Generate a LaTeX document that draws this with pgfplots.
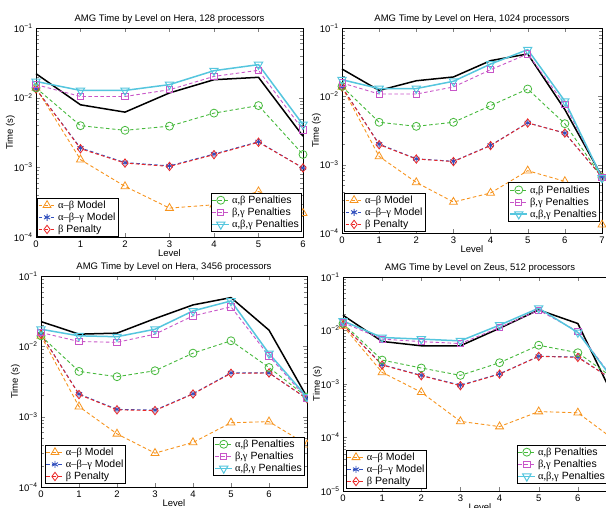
\documentclass[border=0pt]{standalone}
\usepackage{pgfplots}
\pgfplotsset{compat=1.18}
\usepackage{fontspec}
\setmainfont{Liberation Sans}
\newfontfamily\grk{Liberation Serif}
\definecolor{cOr}{RGB}{247,148,30}
\definecolor{cBl}{RGB}{50,80,190}
\definecolor{cRd}{RGB}{235,40,40}
\definecolor{cGr}{RGB}{70,185,60}
\definecolor{cMg}{RGB}{200,85,200}
\definecolor{cCy}{RGB}{85,198,222}
\newcommand{\tl}[1]{10\textsuperscript{−#1}}
\pgfplotsset{
 sOr/.style={color=cOr, line width=0.9pt, dash pattern=on 3.5pt off 2.5pt, mark=triangle, mark size=4.6pt, mark options={solid, line width=0.8pt}},
 sBl/.style={color=cBl, line width=0.9pt, dash pattern=on 3.5pt off 2.5pt, mark=asterisk, mark size=3.5pt, mark options={solid, line width=0.9pt}},
 sRd/.style={color=cRd, line width=0.9pt, dash pattern=on 3.5pt off 2.5pt, mark=diamond, mark size=4.2pt, mark options={solid, line width=0.8pt}},
 sGr/.style={color=cGr, line width=0.9pt, dash pattern=on 3.5pt off 2.5pt, mark=o, mark size=4pt, mark options={solid, line width=0.8pt}},
 sMg/.style={color=cMg, line width=0.9pt, dash pattern=on 3.5pt off 2.5pt, mark=square, mark size=3.1pt, mark options={solid, line width=0.8pt}},
 sCy/.style={color=cCy, line width=1.5pt, solid, mark=triangle, mark size=4.8pt, mark options={solid, rotate=180, line width=1pt}},
 sBk/.style={color=black, line width=1.5pt, solid, no marks},
}
\begin{document}
\begin{tikzpicture}
\useasboundingbox (0,0) rectangle (606pt,508pt);
\clip (0,0) rectangle (606pt,508pt);
% ---------------- top left
\begin{axis}[scale only axis, ymode=log, clip=false, anchor=south west,
  tick align=inside, axis line style={line width=0.7pt},
  font=\fontsize{9.5}{11}\selectfont, tick label style={font=\fontsize{9.5}{11}\selectfont},
  /pgf/number format/assume math mode=true,
  ytick={1e-4,1e-3,1e-2,1e-1}, yticklabels={\tl{4},\tl{3},\tl{2},\tl{1}},
  minor ytick={2e-4,3e-4,4e-4,5e-4,6e-4,7e-4,8e-4,9e-4,2e-3,3e-3,4e-3,5e-3,6e-3,7e-3,8e-3,9e-3,2e-2,3e-2,4e-2,5e-2,6e-2,7e-2,8e-2,9e-2},
  title style={font=\fontsize{9.5}{11}\selectfont, yshift=-5pt},
  xlabel={Level}, ylabel={Time (s)}, xlabel style={yshift=5pt}, ylabel style={yshift=-8pt},
  legend cell align=left,
  legend style={draw=black, line width=1pt, fill=white, inner sep=0.5pt, font=\fontsize{10.5}{12}\selectfont, row sep=-1pt, at={(0.004,0.0)}, anchor=south west},
  at={(36pt,271pt)}, width=267pt, height=209pt, xmin=0, xmax=6, ymin=1e-4, ymax=1e-1,
  xtick={0,...,6}, title={AMG Time by Level on Hera, 128 processors}]
\addplot[sBk, forget plot] coordinates {(0,0.0221)(1,0.0079)(2,0.0062)(3,0.0117)(4,0.0181)(5,0.0196)(6,0.0028)};
\addplot[sOr] coordinates {(0,0.0138)(1,0.00129)(2,0.000533)(3,0.00026)(4,0.00029)(5,0.00045)(6,0.00022)};
\addlegendentry{{\grk α–β} Model}
\addplot[sBl] coordinates {(0,0.0133)(1,0.0019)(2,0.00117)(3,0.00105)(4,0.00155)(5,0.00233)(6,0.00098)};
\addlegendentry{{\grk α–β–γ} Model}
\addplot[sRd] coordinates {(0,0.0133)(1,0.00185)(2,0.00115)(3,0.00103)(4,0.00152)(5,0.00229)(6,0.00098)};
\addlegendentry{{\grk β} Penalty}
\addplot[sGr, forget plot] coordinates {(0,0.0138)(1,0.00396)(2,0.0034)(3,0.0039)(4,0.0060)(5,0.0077)(6,0.00153)};
\addplot[sMg, forget plot] coordinates {(0,0.0154)(1,0.0104)(2,0.0104)(3,0.0130)(4,0.0202)(5,0.0247)(6,0.00345)};
\addplot[sCy, forget plot] coordinates {(0,0.0171)(1,0.0127)(2,0.0127)(3,0.0154)(4,0.0244)(5,0.0298)(6,0.0041)};
\end{axis}
\begin{axis}[scale only axis, ymode=log, hide axis, anchor=south west, at={(36pt,271pt)}, width=267pt, height=209pt, xmin=0, xmax=6, ymin=1e-4, ymax=1e-1,
  legend cell align=left,
  legend style={draw=black, line width=1pt, fill=white, inner sep=0.5pt, font=\fontsize{10.5}{12}\selectfont, row sep=-1pt, at={(0.996,0.024)}, anchor=south east}]
\addplot[draw=none, forget plot] coordinates {(0,0.01)};
\addlegendimage{sGr}\addlegendentry{{\grk α,β} Penalties}
\addlegendimage{sMg}\addlegendentry{{\grk β,γ} Penalties}
\addlegendimage{sCy}\addlegendentry{{\grk α,β,γ} Penalties}
\end{axis}
% ---------------- top right
\begin{axis}[scale only axis, ymode=log, clip=false, anchor=south west,
  tick align=inside, axis line style={line width=0.7pt},
  font=\fontsize{9.5}{11}\selectfont, tick label style={font=\fontsize{9.5}{11}\selectfont},
  /pgf/number format/assume math mode=true,
  ytick={1e-4,1e-3,1e-2,1e-1}, yticklabels={\tl{4},\tl{3},\tl{2},\tl{1}},
  minor ytick={2e-4,3e-4,4e-4,5e-4,6e-4,7e-4,8e-4,9e-4,2e-3,3e-3,4e-3,5e-3,6e-3,7e-3,8e-3,9e-3,2e-2,3e-2,4e-2,5e-2,6e-2,7e-2,8e-2,9e-2},
  title style={font=\fontsize{9.5}{11}\selectfont, yshift=-5pt},
  xlabel={Level}, ylabel={Time (s)}, xlabel style={yshift=5pt}, ylabel style={yshift=-8pt},
  legend cell align=left,
  legend style={draw=black, line width=1pt, fill=white, inner sep=0.5pt, font=\fontsize{10.5}{12}\selectfont, row sep=-1pt, at={(0.008,0.005)}, anchor=south west},
  at={(342pt,275pt)}, width=260pt, height=205pt, xmin=0, xmax=7, ymin=1e-4, ymax=1e-1,
  xtick={0,...,7}, title={AMG Time by Level on Hera, 1024 processors}]
\addplot[sBk, forget plot] coordinates {(0,0.0251)(1,0.0122)(2,0.0169)(3,0.0192)(4,0.0333)(5,0.0417)(6,0.0064)(7,0.00067)};
\addplot[sOr] coordinates {(0,0.0137)(1,0.00132)(2,0.00055)(3,0.000284)(4,0.000385)(5,0.000816)(6,0.00057)(7,0.000132)};
\addlegendentry{{\grk α–β} Model}
\addplot[sBl] coordinates {(0,0.0137)(1,0.0020)(2,0.00122)(3,0.00112)(4,0.00192)(5,0.0041)(6,0.0029)(7,0.00066)};
\addlegendentry{{\grk α–β–γ} Model}
\addplot[sRd] coordinates {(0,0.0137)(1,0.00196)(2,0.00121)(3,0.00111)(4,0.0019)(5,0.00407)(6,0.0029)(7,0.00066)};
\addlegendentry{{\grk β} Penalty}
\addplot[sGr, forget plot] coordinates {(0,0.0140)(1,0.00417)(2,0.00364)(3,0.00417)(4,0.0073)(5,0.0128)(6,0.00398)(7,0.00065)};
\addplot[sMg, forget plot] coordinates {(0,0.0157)(1,0.0108)(2,0.0108)(3,0.0137)(4,0.0245)(5,0.0417)(6,0.0076)(7,0.00065)};
\addplot[sCy, forget plot] coordinates {(0,0.0175)(1,0.0130)(2,0.0130)(3,0.0166)(4,0.0297)(5,0.0482)(6,0.0085)(7,0.00064)};
\end{axis}
\begin{axis}[scale only axis, ymode=log, hide axis, anchor=south west, at={(342pt,275pt)}, width=260pt, height=205pt, xmin=0, xmax=7, ymin=1e-4, ymax=1e-1,
  legend cell align=left,
  legend style={draw=black, line width=1pt, fill=white, inner sep=0.5pt, font=\fontsize{10.5}{12}\selectfont, row sep=-1pt, at={(0.992,0.055)}, anchor=south east}]
\addplot[draw=none, forget plot] coordinates {(0,0.01)};
\addlegendimage{sGr}\addlegendentry{{\grk α,β} Penalties}
\addlegendimage{sMg}\addlegendentry{{\grk β,γ} Penalties}
\addlegendimage{sCy}\addlegendentry{{\grk α,β,γ} Penalties}
\end{axis}
% white backdrop of the lower figures
\fill[white] (0,0) rectangle (606pt,252pt);
% ---------------- bottom left
\begin{axis}[scale only axis, ymode=log, clip=false, anchor=south west,
  tick align=inside, axis line style={line width=0.7pt},
  font=\fontsize{9.5}{11}\selectfont, tick label style={font=\fontsize{9.5}{11}\selectfont},
  /pgf/number format/assume math mode=true,
  ytick={1e-4,1e-3,1e-2,1e-1}, yticklabels={\tl{4},\tl{3},\tl{2},\tl{1}},
  minor ytick={2e-4,3e-4,4e-4,5e-4,6e-4,7e-4,8e-4,9e-4,2e-3,3e-3,4e-3,5e-3,6e-3,7e-3,8e-3,9e-3,2e-2,3e-2,4e-2,5e-2,6e-2,7e-2,8e-2,9e-2},
  title style={font=\fontsize{9.5}{11}\selectfont, yshift=-5pt},
  xlabel={Level}, ylabel={Time (s)}, xlabel style={yshift=5pt}, ylabel style={yshift=-8pt},
  legend cell align=left,
  legend style={draw=black, line width=1pt, fill=white, inner sep=0.5pt, font=\fontsize{10.5}{12}\selectfont, row sep=-1pt, at={(0.015,0.014)}, anchor=south west},
  at={(41pt,21pt)}, width=266pt, height=211pt, xmin=0, xmax=7, ymin=1e-4, ymax=1e-1,
  xtick={0,...,6}, title={AMG Time by Level on Hera, 3456 processors}]
\addplot[sBk, forget plot] coordinates {(0,0.0225)(1,0.0149)(2,0.0154)(3,0.0248)(4,0.0388)(5,0.0493)(6,0.0170)(7,0.0019)};
\addplot[sOr] coordinates {(0,0.0141)(1,0.00139)(2,0.00057)(3,0.000303)(4,0.00043)(5,0.00082)(6,0.00085)(7,0.0004)};
\addlegendentry{{\grk α–β} Model}
\addplot[sBl] coordinates {(0,0.0149)(1,0.0021)(2,0.00127)(3,0.00124)(4,0.00212)(5,0.0042)(6,0.0042)(7,0.0018)};
\addlegendentry{{\grk α–β–γ} Model}
\addplot[sRd] coordinates {(0,0.0149)(1,0.00206)(2,0.00125)(3,0.00122)(4,0.0021)(5,0.00413)(6,0.00418)(7,0.0018)};
\addlegendentry{{\grk β} Penalty}
\addplot[sGr, forget plot] coordinates {(0,0.0141)(1,0.0044)(2,0.0037)(3,0.0045)(4,0.0080)(5,0.0120)(6,0.0050)(7,0.0019)};
\addplot[sMg, forget plot] coordinates {(0,0.0157)(1,0.0117)(2,0.0114)(3,0.0149)(4,0.0271)(5,0.0364)(6,0.0073)(7,0.0018)};
\addplot[sCy, forget plot] coordinates {(0,0.0175)(1,0.0141)(2,0.0137)(3,0.0175)(4,0.0319)(5,0.0442)(6,0.0079)(7,0.0019)};
\end{axis}
\begin{axis}[scale only axis, ymode=log, hide axis, anchor=south west, at={(41pt,21pt)}, width=266pt, height=211pt, xmin=0, xmax=7, ymin=1e-4, ymax=1e-1,
  legend cell align=left,
  legend style={draw=black, line width=1pt, fill=white, inner sep=0.5pt, font=\fontsize{10.5}{12}\selectfont, row sep=-1pt, at={(0.992,0.052)}, anchor=south east}]
\addplot[draw=none, forget plot] coordinates {(0,0.01)};
\addlegendimage{sGr}\addlegendentry{{\grk α,β} Penalties}
\addlegendimage{sMg}\addlegendentry{{\grk β,γ} Penalties}
\addlegendimage{sCy}\addlegendentry{{\grk α,β,γ} Penalties}
\end{axis}
\fill[white] (307.5pt,0) rectangle (606pt,252pt);
% ---------------- bottom right
\begin{axis}[scale only axis, ymode=log, clip=false, anchor=south west,
  tick align=inside, axis line style={line width=0.7pt},
  font=\fontsize{9.5}{11}\selectfont, tick label style={font=\fontsize{9.5}{11}\selectfont},
  /pgf/number format/assume math mode=true,
  ytick={1e-5,1e-4,1e-3,1e-2,1e-1}, yticklabels={\tl{5},\tl{4},\tl{3},\tl{2},\tl{1}},
  minor ytick={2e-5,3e-5,4e-5,5e-5,6e-5,7e-5,8e-5,9e-5,2e-4,3e-4,4e-4,5e-4,6e-4,7e-4,8e-4,9e-4,2e-3,3e-3,4e-3,5e-3,6e-3,7e-3,8e-3,9e-3,2e-2,3e-2,4e-2,5e-2,6e-2,7e-2,8e-2,9e-2},
  title style={font=\fontsize{9.5}{11}\selectfont, yshift=-5pt},
  xlabel={Level}, ylabel={Time (s)}, xlabel style={yshift=5pt}, ylabel style={yshift=-8pt},
  legend cell align=left,
  legend style={draw=black, line width=1pt, fill=white, inner sep=0.5pt, font=\fontsize{10.5}{12}\selectfont, row sep=-1pt, at={(0.011,0.009)}, anchor=south west},
  at={(343pt,17pt)}, width=274pt, height=214pt, xmin=0, xmax=7, ymin=1e-5, ymax=1e-1,
  xtick={0,...,7}, title={AMG Time by Level on Zeus, 512 processors}]
\addplot[sBk, forget plot] coordinates {(0,0.0193)(1,0.00624)(2,0.00518)(3,0.00518)(4,0.0110)(5,0.0243)(6,0.0135)(7,0.00042)};
\addplot[sOr] coordinates {(0,0.0122)(1,0.00165)(2,0.0007)(3,0.0002)(4,0.00016)(5,0.000305)(6,0.00029)(7,0.000083)};
\addlegendentry{{\grk α–β} Model}
\addplot[sBl] coordinates {(0,0.0128)(1,0.0023)(2,0.00145)(3,0.00095)(4,0.00155)(5,0.0033)(6,0.0032)(7,0.00107)};
\addlegendentry{{\grk α–β–γ} Model}
\addplot[sRd] coordinates {(0,0.0128)(1,0.00226)(2,0.00143)(3,0.00093)(4,0.00153)(5,0.00328)(6,0.00314)(7,0.00107)};
\addlegendentry{{\grk β} Penalty}
\addplot[sGr, forget plot] coordinates {(0,0.0135)(1,0.0028)(2,0.00199)(3,0.00145)(4,0.0025)(5,0.0053)(6,0.00384)(7,0.00115)};
\addplot[sMg, forget plot] coordinates {(0,0.0141)(1,0.0069)(2,0.0062)(3,0.0057)(4,0.0114)(5,0.0239)(6,0.0096)(7,0.0010)};
\addplot[sCy, forget plot] coordinates {(0,0.0151)(1,0.0074)(2,0.0069)(3,0.0064)(4,0.0126)(5,0.0261)(6,0.0092)(7,0.00097)};
\end{axis}
\begin{axis}[scale only axis, ymode=log, hide axis, anchor=south west, at={(343pt,17pt)}, width=274pt, height=214pt, xmin=0, xmax=7, ymin=1e-5, ymax=1e-1,
  legend cell align=left,
  legend style={draw=black, line width=1pt, fill=white, inner sep=0.5pt, font=\fontsize{10.5}{12}\selectfont, row sep=-1pt, at={(0.967,0.033)}, anchor=south east}]
\addplot[draw=none, forget plot] coordinates {(0,0.01)};
\addlegendimage{sGr}\addlegendentry{{\grk α,β} Penalties}
\addlegendimage{sMg}\addlegendentry{{\grk β,γ} Penalties}
\addlegendimage{sCy}\addlegendentry{{\grk α,β,γ} Penalties}
\end{axis}
\end{tikzpicture}
\end{document}
